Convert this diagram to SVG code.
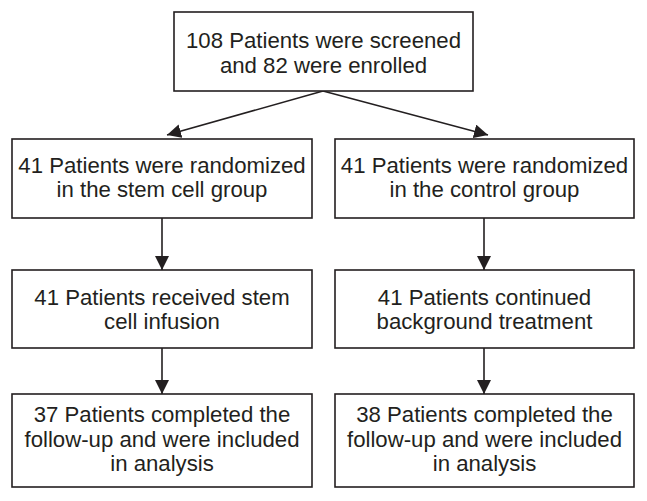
<svg xmlns="http://www.w3.org/2000/svg" width="647" height="501" viewBox="0 0 647 501">
<style>
.box{fill:#fff;stroke:#231f20;stroke-width:1.6}
.t{font-family:"Liberation Sans",Arial,sans-serif;font-size:22.2px;fill:#231f20;text-anchor:middle}
.c{stroke:#231f20;stroke-width:1.6;fill:none}
</style>
<defs>
<marker id="ah" viewBox="0 0 14 14" refX="14" refY="7" markerWidth="14" markerHeight="14" markerUnits="userSpaceOnUse" orient="auto">
<path d="M0,0 L14,7 L0,14 Z" fill="#231f20"/>
</marker>
</defs>
<rect width="647" height="501" fill="#fff"/>
<g id="connectors">
<line class="c" x1="323" y1="91" x2="167" y2="135" marker-end="url(#ah)"/>
<line class="c" x1="323" y1="91" x2="488" y2="135" marker-end="url(#ah)"/>
<line class="c" x1="162" y1="218" x2="162" y2="270" marker-end="url(#ah)"/>
<line class="c" x1="484" y1="218" x2="484" y2="270" marker-end="url(#ah)"/>
<line class="c" x1="162" y1="348" x2="162" y2="394" marker-end="url(#ah)"/>
<line class="c" x1="484" y1="348" x2="484" y2="394" marker-end="url(#ah)"/>
</g>
<g id="n_top">
<rect class="box" x="174" y="12" width="299" height="79"/>
<text class="t" x="323.5" y="48">108 Patients were screened</text>
<text class="t" x="323.5" y="72.5">and 82 were enrolled</text>
</g>
<g id="n_rand_stem">
<rect class="box" x="12" y="139" width="300" height="79"/>
<text class="t" x="162" y="173">41 Patients were randomized</text>
<text class="t" x="162" y="197">in the stem cell group</text>
</g>
<g id="n_rand_ctrl">
<rect class="box" x="335" y="139" width="299" height="79"/>
<text class="t" x="484.5" y="173">41 Patients were randomized</text>
<text class="t" x="484.5" y="197">in the control group</text>
</g>
<g id="n_infusion">
<rect class="box" x="12" y="270" width="300" height="78"/>
<text class="t" x="162" y="305">41 Patients received stem</text>
<text class="t" x="162" y="329">cell infusion</text>
</g>
<g id="n_background">
<rect class="box" x="335" y="270" width="299" height="78"/>
<text class="t" x="484.5" y="305">41 Patients continued</text>
<text class="t" x="484.5" y="329">background treatment</text>
</g>
<g id="n_complete_stem">
<rect class="box" x="12" y="394" width="300" height="93"/>
<text class="t" x="162" y="422">37 Patients completed the</text>
<text class="t" x="162" y="446.5">follow-up and were included</text>
<text class="t" x="162" y="470.5">in analysis</text>
</g>
<g id="n_complete_ctrl">
<rect class="box" x="335" y="394" width="299" height="93"/>
<text class="t" x="484.5" y="422">38 Patients completed the</text>
<text class="t" x="484.5" y="446.5">follow-up and were included</text>
<text class="t" x="484.5" y="470.5">in analysis</text>
</g>
</svg>
